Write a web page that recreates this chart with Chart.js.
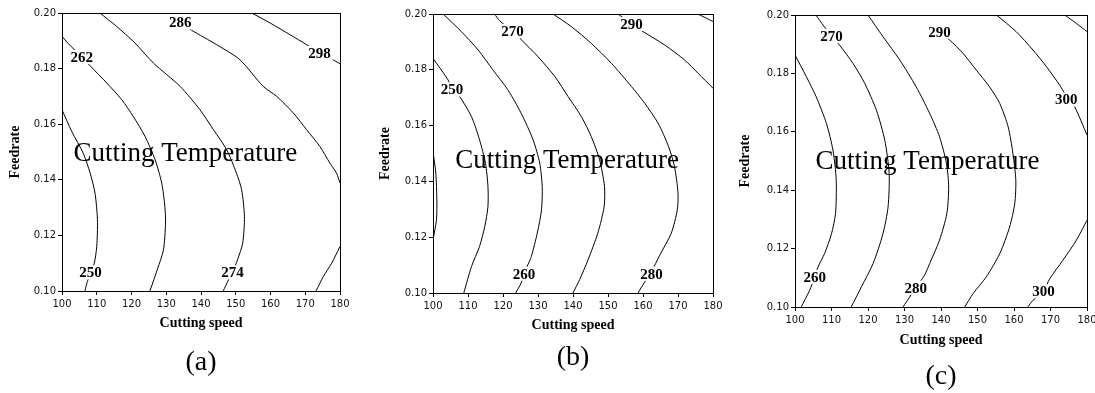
<!DOCTYPE html>
<html>
<head>
<meta charset="utf-8">
<script src="https://cdn.jsdelivr.net/npm/chart.js@4.4.1/dist/chart.umd.min.js"></script>
<style>
  html, body { margin: 0; padding: 0; background: #fff; overflow: hidden; width: 1095px; height: 393px; }
  .panel { position: absolute; top: 0; }
</style>
</head>
<body>
<canvas id="chartA" class="panel" style="left:0px" width="360" height="393"></canvas>
<canvas id="chartB" class="panel" style="left:365px" width="365" height="393"></canvas>
<canvas id="chartC" class="panel" style="left:730px" width="380" height="400"></canvas>
<script>
// axis ticks
const speedTicks = [100, 110, 120, 130, 140, 150, 160, 170, 180];
const feedTicks = [0.10, 0.12, 0.14, 0.16, 0.18, 0.20];

// contour lines: [cutting speed, feedrate]
// panel (a)
const a250 = [[100,0.1652],[102.8,0.1574],[106.1,0.1496],[108.1,0.1424],[109.5,0.1352],[110.2,0.1256],[110.0,0.1160],[109.3,0.1100],[108.3,0.1067],[107.3,0.1034],[106.6,0.100]];
const a262 = [[100,0.1916],[101.8,0.1890],[105.7,0.1842],[108.1,0.1810],[112.9,0.1748],[117.2,0.1688],[120.5,0.1628],[123.9,0.1556],[126.8,0.1472],[128.7,0.1388],[129.6,0.1304],[129.8,0.1245],[129.2,0.1148],[127.5,0.1080],[125.3,0.100]];
const a274 = [[110.9,0.200],[115.7,0.1952],[121.0,0.1892],[126.3,0.1820],[134.0,0.1736],[139.7,0.1652],[143.6,0.1580],[147.4,0.1508],[150.2,0.1424],[151.7,0.1364],[152.5,0.1268],[152.0,0.1172],[150.5,0.1112],[149.1,0.1067],[147.9,0.1040],[146.4,0.100]];
const a286 = [[134.0,0.1966],[137.3,0.1938],[144.5,0.1886],[151.2,0.1832],[157.9,0.1736],[161.8,0.1700],[166.6,0.1640],[170.4,0.1580],[174.2,0.1520],[177.1,0.1460],[179.0,0.1424],[180,0.1388]];
const a298 = [[154.6,0.200],[159.9,0.1964],[165.6,0.1922],[170.4,0.1886],[174.1,0.1856],[177.6,0.1834],[180,0.1818]];
const a310 = [[180,0.1160],[177.6,0.1100],[175.2,0.1052],[173.1,0.100]];
const labelsA = [['250',108.2,0.1067],['262',105.7,0.1842],['274',149.1,0.1067],['286',134.0,0.1966],['298',174.1,0.1856]];

// panel (b)
const b240 = [[100,0.1507],[100.8,0.1430],[101.1,0.1334],[101.0,0.1263],[100,0.1191]];
const b250 = [[100,0.1841],[104.3,0.1764],[105.4,0.1730],[107.6,0.1704],[111.0,0.1632],[113.3,0.1549],[115.0,0.1465],[115.7,0.1382],[115.7,0.1310],[114.8,0.1239],[113.3,0.1167],[111.0,0.1095],[108.8,0.100]];
const b260 = [[102.9,0.200],[108.1,0.1937],[112.9,0.1871],[117.1,0.1800],[121.4,0.1728],[125.2,0.1644],[128.6,0.1549],[130.5,0.1465],[131.2,0.1382],[131.0,0.1298],[129.8,0.1215],[128.1,0.1131],[127.1,0.1101],[126.0,0.1069],[125.2,0.1036],[123.6,0.100]];
const b270 = [[117.6,0.200],[119.0,0.1976],[122.7,0.1939],[124.8,0.1913],[130.0,0.1847],[134.8,0.1776],[138.6,0.1704],[142.4,0.1632],[145.2,0.1561],[147.6,0.1477],[149.0,0.1382],[148.9,0.1310],[147.1,0.1215],[144.3,0.1119],[141.9,0.1048],[140.0,0.100]];
const b280 = [[134.3,0.200],[139.5,0.1955],[145.2,0.1895],[151.0,0.1823],[156.7,0.1740],[160.5,0.1680],[164.3,0.1609],[167.3,0.1525],[169.0,0.1453],[170.0,0.1358],[169.8,0.1298],[168.1,0.1215],[164.8,0.1136],[162.4,0.1076],[160.3,0.1036],[158.6,0.100]];
const b290 = [[152.9,0.200],[156.7,0.1964],[160.0,0.1937],[166.2,0.1889],[171.9,0.1835],[175.7,0.1788],[180,0.1734]];
const b300 = [[175.7,0.200],[180,0.1973]];
const labelsB = [['250',105.4,0.1730],['260',126.0,0.1069],['270',122.7,0.1939],['280',162.4,0.1069],['290',156.7,0.1964]];

// panel (c)
const c260 = [[100,0.1863],[103.1,0.1789],[105.8,0.1720],[108.6,0.1629],[110.4,0.1537],[111.3,0.1434],[111.1,0.1320],[110.0,0.1251],[108.1,0.1183],[106.3,0.1137],[105.4,0.1103],[104.0,0.1057],[101.7,0.100]];
const c270 = [[105.7,0.200],[107.9,0.1962],[110.0,0.1928],[112.2,0.1897],[115.9,0.1834],[119.1,0.1766],[122.3,0.1674],[124.6,0.1571],[125.8,0.1457],[125.5,0.1343],[124.1,0.1251],[121.4,0.1149],[118.2,0.1069],[115.4,0.100]];
const c280 = [[120.0,0.200],[124.1,0.1926],[128.7,0.1846],[133.2,0.1754],[136.9,0.1663],[139.6,0.1583],[141.5,0.1491],[142.1,0.1411],[141.6,0.1320],[139.6,0.1229],[136.9,0.1149],[135.5,0.1109],[133.1,0.1066],[130.5,0.1017],[129.6,0.100]];
const c290 = [[139.6,0.1943],[142.4,0.1914],[146.0,0.1869],[149.7,0.1811],[153.3,0.1754],[156.1,0.1697],[158.4,0.1617],[159.7,0.1526],[160.5,0.1434],[160.2,0.1354],[158.8,0.1274],[156.1,0.1183],[152.4,0.1103],[148.8,0.1046],[146.5,0.100]];
const c300 = [[155.2,0.200],[160.6,0.1943],[165.2,0.1880],[168.9,0.1823],[172.5,0.1760],[174.5,0.1720],[176.6,0.1686],[180,0.1589]];
const c300low = [[180,0.1297],[177.1,0.1229],[173.4,0.1160],[169.8,0.1097],[168.1,0.1054],[165.2,0.1023],[163.8,0.100]];
const c310 = [[173.9,0.200],[177.1,0.1971],[180,0.1943]];
const labelsC = [['260',105.4,0.1103],['270',110.0,0.1928],['280',133.1,0.1066],['290',139.6,0.1943],['300',174.3,0.1711],['300',168.1,0.1054]];

const serif = '"Liberation Serif", "Times New Roman", serif';

// frame, contour labels, caption and panel tag, drawn after the lines
const contourLabels = {
    id: 'contourLabels',
    afterDatasetsDraw(chart, args, opts) {
        const { ctx, chartArea: area, scales: { x, y } } = chart;
        ctx.save();
        ctx.strokeStyle = '#000';
        ctx.lineWidth = 1;
        ctx.strokeRect(Math.round(area.left) + 0.5, Math.round(area.top) + 0.5,
            Math.round(area.right - area.left), Math.round(area.bottom - area.top));

        ctx.font = 'bold 15px ' + serif;
        ctx.textAlign = 'center';
        ctx.textBaseline = 'middle';
        opts.labels.forEach(([text, sx, fy]) => {
            const px = x.getPixelForValue(sx);
            const py = y.getPixelForValue(fy);
            const w = ctx.measureText(text).width;
            ctx.fillStyle = '#fff';
            ctx.fillRect(px - w / 2 - 2, py - 7, w + 4, 14);
            ctx.fillStyle = '#000';
            ctx.fillText(text, px, py + 1);
        });

        ctx.font = '27px ' + serif;
        ctx.textBaseline = 'alphabetic';
        ctx.fillText(opts.note, x.getPixelForValue(opts.notePos[0]), y.getPixelForValue(opts.notePos[1]));

        // (a), (b), (c) under the axis title
        ctx.font = '28px ' + serif;
        ctx.textBaseline = 'middle';
        ctx.fillText(opts.tag, (area.left + area.right) / 2, opts.tagY);
        ctx.restore();
    }
};

function makePanel(id, lines, labels, notePos, tag, box) {
    const datasets = lines.map(pts => ({
        data: pts.map(([s, f]) => ({ x: s, y: f })),
        showLine: true,
        borderColor: '#000',
        borderWidth: 1,
        pointRadius: 0,
        tension: 0.25,
        fill: false
    }));

    const tickFont = { family: '"DejaVu Sans", sans-serif', size: 10 };

    return new Chart(document.getElementById(id), {
        type: 'scatter',
        data: { datasets: datasets },
        plugins: [contourLabels],
        options: {
            responsive: false,
            animation: false,
            layout: { padding: box.pad },
            plugins: {
                legend: { display: false },
                tooltip: { enabled: false },
                contourLabels: { labels: labels, note: 'Cutting Temperature', notePos: notePos, tag: tag, tagY: box.tagY }
            },
            scales: {
                x: {
                    type: 'linear',
                    min: speedTicks[0],
                    max: speedTicks[speedTicks.length - 1],
                    afterBuildTicks: s => { s.ticks = speedTicks.map(v => ({ value: v })); },
                    afterFit: s => { s.height = box.xh; },
                    ticks: { color: '#111', font: tickFont, padding: 3, maxRotation: 0 },
                    grid: { drawOnChartArea: false, drawTicks: true, tickLength: 4, color: '#000' },
                    border: { display: true, color: '#000' },
                    title: {
                        display: true,
                        text: 'Cutting speed',
                        color: '#000',
                        font: { family: serif, size: 14, weight: 'bold' },
                        padding: { top: 0, bottom: box.xtp }
                    }
                },
                y: {
                    type: 'linear',
                    min: feedTicks[0],
                    max: feedTicks[feedTicks.length - 1],
                    afterBuildTicks: s => { s.ticks = feedTicks.map(v => ({ value: v })); },
                    afterFit: s => { s.width = box.yw; },
                    ticks: { color: '#111', font: tickFont, padding: 2, callback: v => v.toFixed(2) },
                    grid: { drawOnChartArea: false, drawTicks: true, tickLength: 4, color: '#000' },
                    border: { display: true, color: '#000' },
                    title: {
                        display: true,
                        text: 'Feedrate',
                        color: '#000',
                        font: { family: serif, size: 14, weight: 'bold' },
                        padding: 0
                    }
                }
            }
        }
    });
}

makePanel('chartA', [a250, a262, a274, a286, a298, a310], labelsA, [135.5, 0.1466], '(a)',
    { pad: { left: 6.6, right: 20, top: 13, bottom: 0 }, yw: 55.4, xh: 102, xtp: 61.6, tagY: 363 });
makePanel('chartB', [b240, b250, b260, b270, b280, b290, b300], labelsB, [138.3, 0.1448], '(b)',
    { pad: { left: 11.6, right: 17, top: 14, bottom: 0 }, yw: 56.4, xh: 100, xtp: 59.6, tagY: 358 });
makePanel('chartC', [c260, c270, c280, c290, c300, c300low, c310], labelsC, [136.3, 0.1474], '(c)',
    { pad: { left: 6.6, right: 23, top: 15, bottom: 0 }, yw: 58.4, xh: 93, xtp: 51.6, tagY: 377 });
</script>
</body>
</html>
